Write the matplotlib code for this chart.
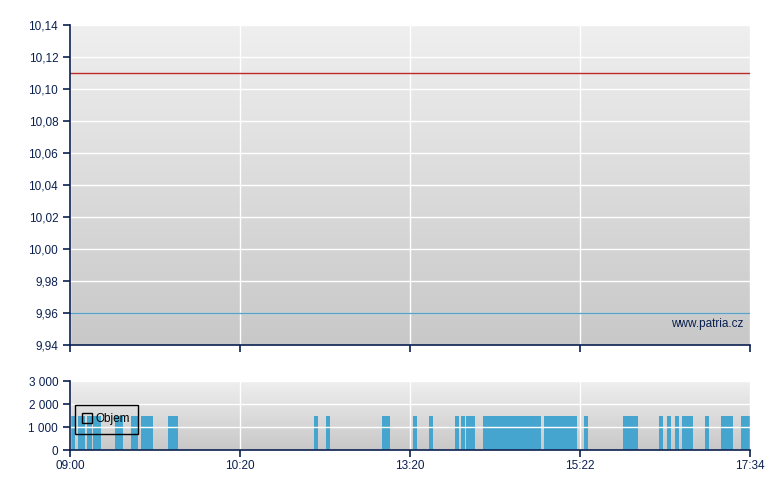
import numpy as np
import matplotlib
matplotlib.use("Agg")
import matplotlib.pyplot as plt
from matplotlib.lines import Line2D
from matplotlib.ticker import FuncFormatter

# ---- data ----
price_ticks = [9.94, 9.96, 9.98, 10.00, 10.02, 10.04, 10.06, 10.08, 10.10, 10.12, 10.14]
price_high = 10.11
price_low = 9.96
time_pos = [0, 170, 340, 510, 680]
time_labels = ["09:00", "10:20", "13:20", "15:22", "17:34"]
vol_left = [1, 8, 17, 23, 45, 61, 71, 98, 244, 256, 312, 343, 359, 385, 391, 396,
            413, 474, 514, 553, 589, 597, 605, 612, 635, 651, 671]
vol_width = [4, 7, 5, 8, 8, 7, 12, 10, 4, 4, 8, 4, 4, 4, 4, 9,
             58, 33, 4, 15, 4, 4, 4, 11, 4, 12, 9]
vol_value = [1500] * len(vol_left)
vol_ticks = [0, 1000, 2000, 3000]

navy = "#0a2050"
plt.rcParams['font.family'] = ['Liberation Sans', 'DejaVu Sans']

W, H = 780, 490
fig = plt.figure(figsize=(W / 100, H / 100), dpi=100)
fig.patch.set_facecolor("white")

def box(x0, y0, x1, y1):
    return [x0 / W, 1 - y1 / H, (x1 - x0) / W, (y1 - y0) / H]

ax = fig.add_axes(box(70, 25, 750, 345))
axv = fig.add_axes(box(70, 381, 750, 450))

def gradient(a, top="#efefef", bottom="#c8c8c8"):
    c0 = np.array(matplotlib.colors.to_rgb(top))
    c1 = np.array(matplotlib.colors.to_rgb(bottom))
    t = np.linspace(0, 1, 256)[:, None]
    img = (c0 * (1 - t) + c1 * t)[:, None, :]
    a.imshow(img, extent=[0, 1, 0, 1], transform=a.transAxes, aspect="auto",
             zorder=0, interpolation="bilinear")

for a in (ax, axv):
    gradient(a)
    a.set_xlim(time_pos[0], time_pos[-1])
    for s in ("top", "right"):
        a.spines[s].set_visible(False)
    for s in ("left", "bottom"):
        a.spines[s].set_color(navy)
        a.spines[s].set_linewidth(1.2)
        a.spines[s].set_zorder(5)
    a.tick_params(colors=navy, labelcolor=navy, labelsize=8.5, direction="out",
                  length=5, width=1.2)
    a.set_xticks(time_pos)
    a.grid(True, color="white", linewidth=1, zorder=1)
    a.set_axisbelow(False)

# price chart
ax.set_ylim(price_ticks[0], price_ticks[-1])
ax.set_yticks(price_ticks)
ax.yaxis.set_major_formatter(FuncFormatter(lambda v, p: f"{v:.2f}".replace(".", ",")))
ax.set_xticklabels([])
ax.axhline(price_high, color="#c0282a", linewidth=1, zorder=3)
ax.axhline(price_low, color="#5aa2c8", linewidth=1, zorder=3)
ax.text(0.99, 0.065, "www.patria.cz", transform=ax.transAxes, ha="right",
        va="center", fontsize=8.5, color=navy, zorder=4)

# volume chart
axv.bar(vol_left, vol_value, width=vol_width, align="edge", color="#46a5ce",
        linewidth=0, zorder=2)
axv.set_ylim(0, 3000)
axv.set_yticks(vol_ticks)
axv.yaxis.set_major_formatter(FuncFormatter(lambda v, p: f"{int(v):,}".replace(",", " ")))
axv.set_xticklabels(time_labels)
axv.tick_params(axis="x", pad=2)

handle = Line2D([], [], linestyle="none", marker="s", markersize=6.5,
                markerfacecolor="none", markeredgecolor="black", markeredgewidth=1)
leg = axv.legend([handle], ["Objem"], loc="upper left",
                 bbox_to_anchor=(5 / 680, 45 / 69), frameon=True, fancybox=False,
                 edgecolor="black", fontsize=8.5, borderpad=0.7,
                 handlelength=0.7, handletextpad=0.3, borderaxespad=0)
leg.get_frame().set_facecolor("none")
leg.get_frame().set_alpha(None)
leg.get_frame().set_linewidth(1)
leg.set_zorder(6)

fig.savefig("out.png", dpi=100)
